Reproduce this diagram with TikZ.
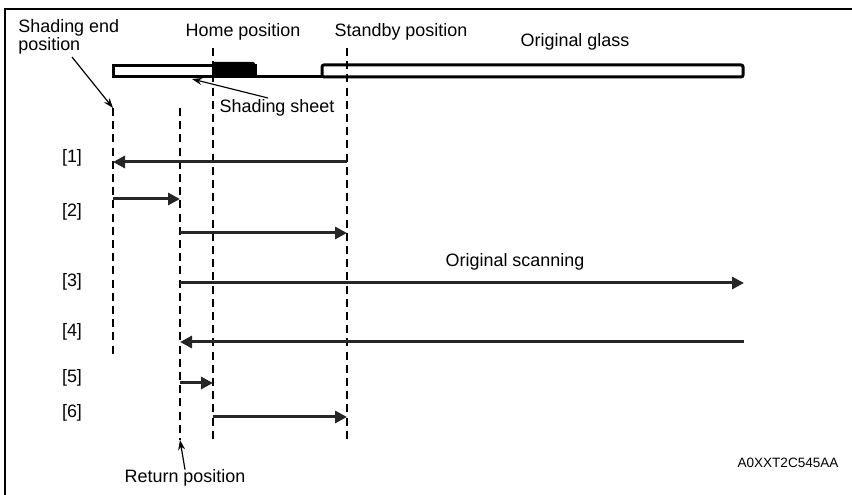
\documentclass[tikz,border=0pt]{standalone}
\usepackage{fontspec}
\setmainfont{Liberation Sans}
\usetikzlibrary{arrows.meta}

\begin{document}
\begin{tikzpicture}[x=0.5bp,y=-0.5bp,
    every node/.style={font=\fontsize{9}{9.2}\selectfont,inner sep=0pt},
    posline/.style={dash pattern=on 4bp off 2.6bp,line width=1bp},
    move/.style={-{Triangle[length=6bp,width=6bp]},line width=1.5bp,draw=black!85},
    callout/.style={-{Stealth[length=5bp,width=3.5bp]},line width=0.6bp},
    glass/.style={draw,line width=1.5bp}]
  \useasboundingbox (0,0) rectangle (852,495);
  \draw[line width=1bp] (5,495) -- (5,9) -- (852,9);

  \coordinate (sEnd) at (113,108);  \coordinate (sEndB) at (113,355);
  \coordinate (ret)  at (180,108);  \coordinate (retB)  at (180,440);
  \coordinate (home) at (213,48);   \coordinate (homeB) at (213,442);
  \coordinate (stby) at (347,48);   \coordinate (stbyB) at (347,442);
  \coordinate (far)  at (744,0);

  \draw[glass] (113,66) rectangle (255,77);
  \fill[rounded corners=1bp] (212,62) rectangle (255,78);
  \draw[glass] (255,77) -- (322,77);
  \draw[glass,rounded corners=1bp] (322,77) -- (322,65) -- (743,65) -- (743,77) -- cycle;

  \draw[posline] (sEnd) -- (sEndB);
  \draw[posline] (ret) -- (retB);
  \draw[posline] (home) -- (homeB);
  \draw[posline] (stby) -- (stbyB);

  \node[anchor=base west,align=left] (endlbl) at (18,51) {Shading end\\position};
  \node[anchor=base] (homelbl) at (243,37) {Home position};
  \node[anchor=base] (stbylbl) at (401,37) {Standby position};
  \node[anchor=base] (glasslbl) at (575,47) {Original glass};
  \node[anchor=base] (sheetlbl) at (277,113) {Shading sheet};
  \node[anchor=base] (scanlbl) at (515,267) {Original scanning};
  \node[anchor=base] (retlbl) at (185,483) {Return position};
  \node[anchor=base,font=\fontsize{6.8}{8}\selectfont] (code) at (788,468) {A0XXT2C545AA};

  \coordinate (endtail) at (72,57);
  \coordinate (sheettail) at (268,98);
  \coordinate (sheettip) at (192,79);
  \draw[callout] (endtail) -- (sEnd);
  \draw[callout] (sheettail) -- (sheettip);
  \draw[callout] (retlbl.north) -- (retB);

  \foreach \n/\yy in {1/163,2/217,3/287,4/337,5/383,6/418}
    \node[anchor=base] (l\n) at (72,\yy) {[\n]};

  \coordinate (r1) at (0,162);
  \coordinate (r2a) at (0,199);
  \coordinate (r2b) at (0,233);
  \coordinate (r3) at (0,283);
  \coordinate (r4) at (0,342);
  \coordinate (r5) at (0,383);
  \coordinate (r6) at (0,417);

  \draw[move] (stby |- r1) -- (sEnd |- r1);
  \draw[move] (sEnd |- r2a) -- (ret |- r2a);
  \draw[move] (ret |- r2b) -- (stby |- r2b);
  \draw[move] (ret |- r3) -- (far |- r3);
  \draw[move] (far |- r4) -- (ret |- r4);
  \draw[move] (ret |- r5) -- (home |- r5);
  \draw[move] (home |- r6) -- (stby |- r6);
\end{tikzpicture}
\end{document}
